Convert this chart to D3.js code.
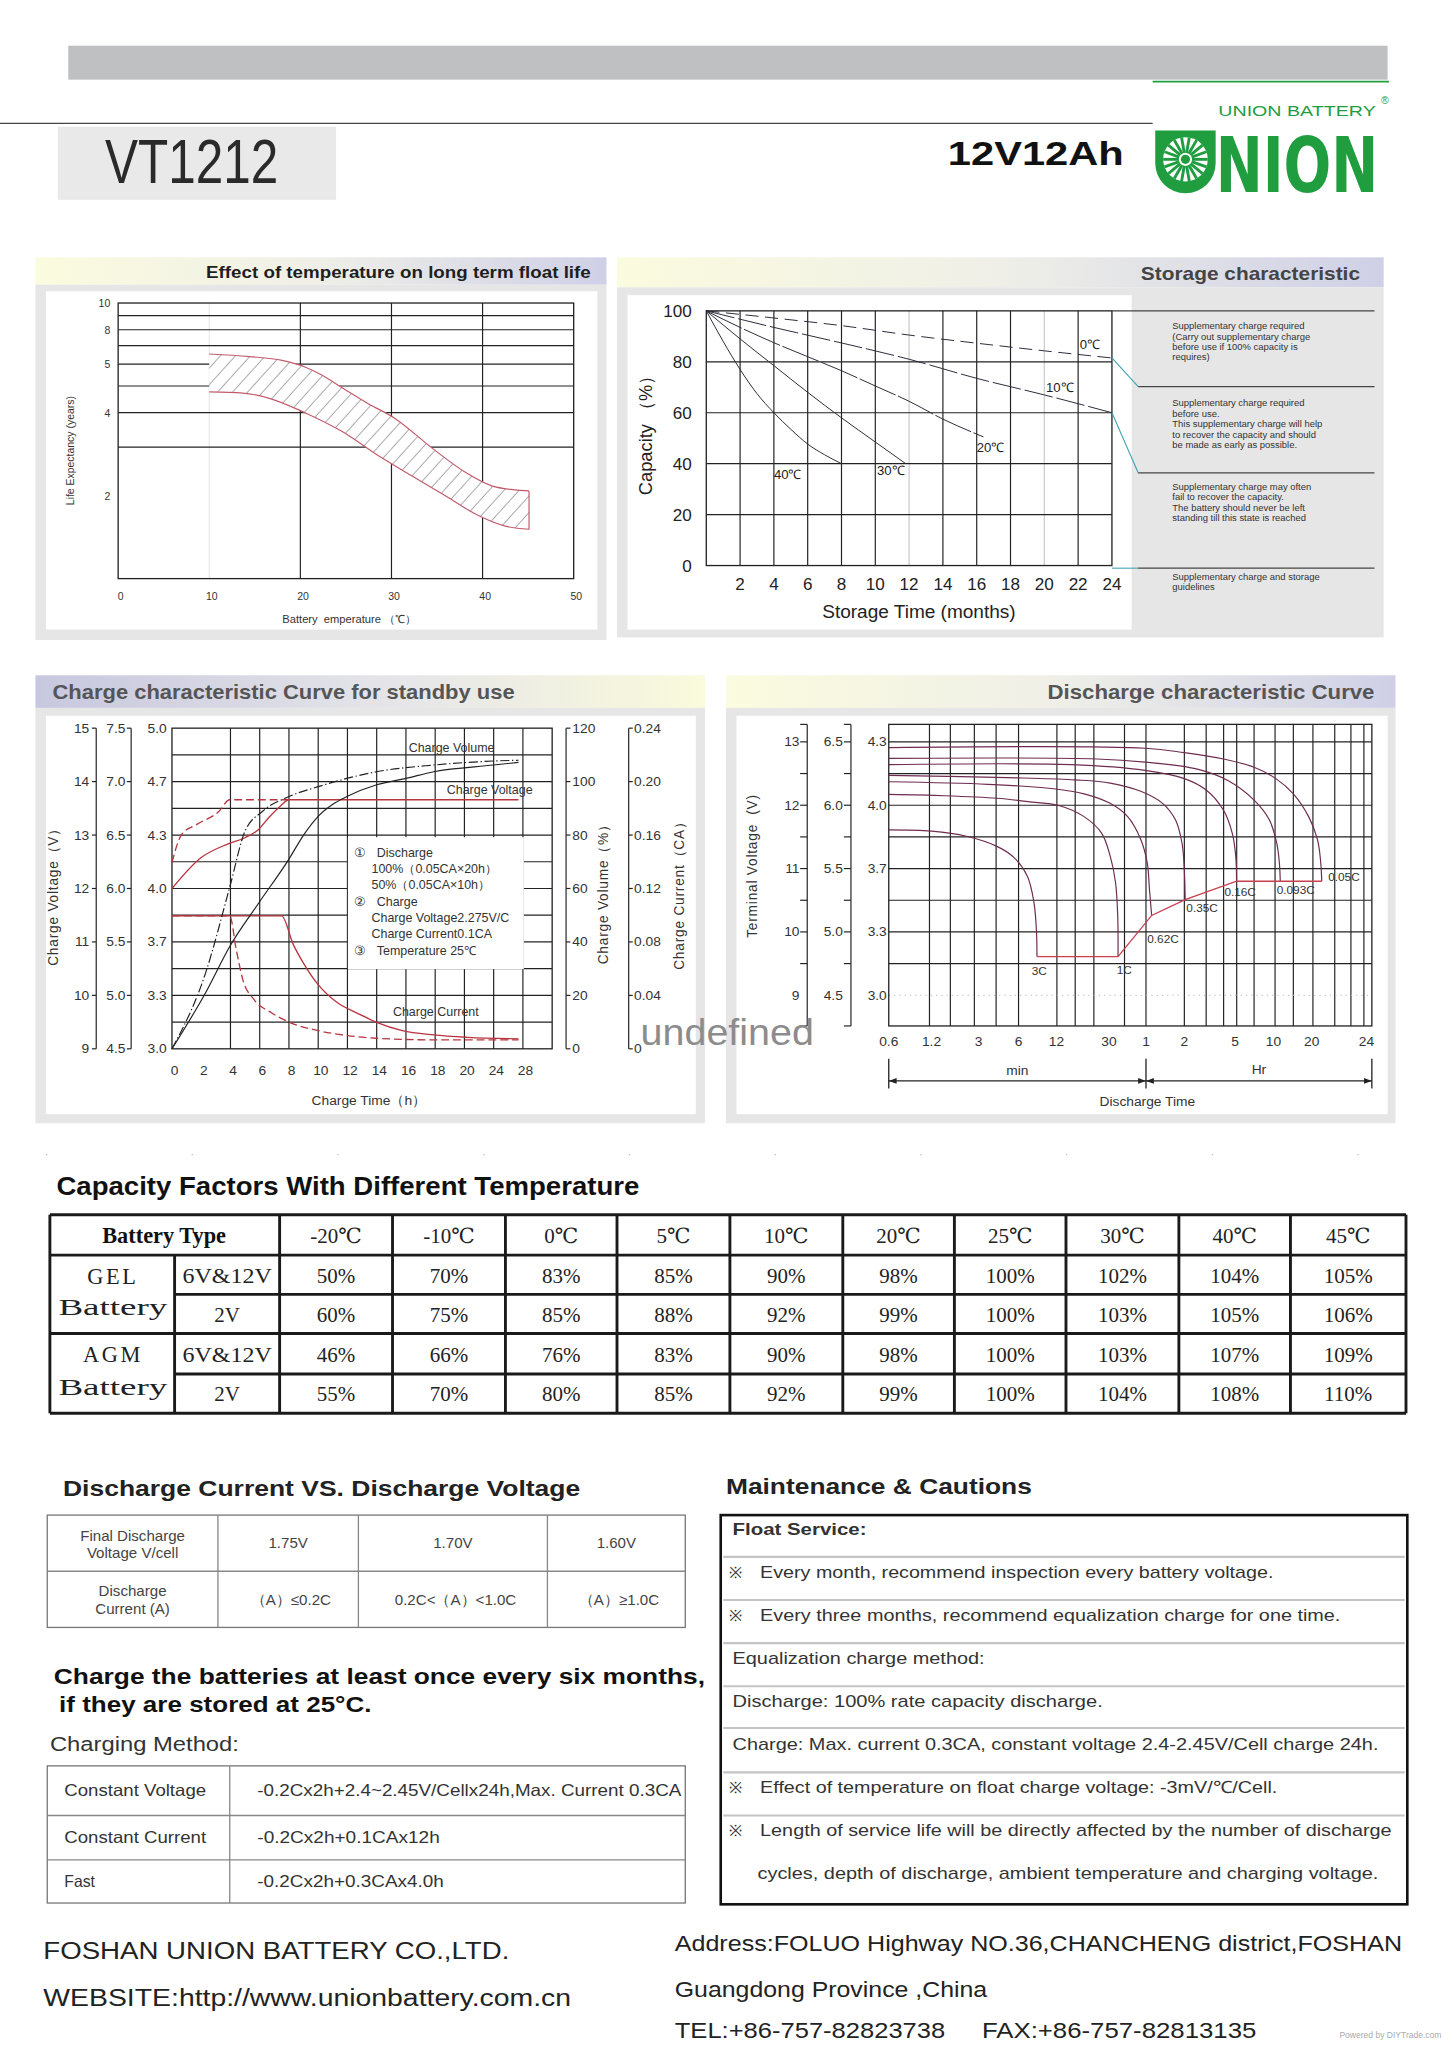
<!DOCTYPE html>
<html>
<head>
<meta charset="utf-8">
<title>VT1212 12V12Ah</title>
<script src="https://cdn.jsdelivr.net/npm/d3@7/dist/d3.min.js"></script>
<style>
body { margin: 0; background: #fff; }
svg { display: block; }
text { font-family: "Liberation Sans", Arial, sans-serif; }
</style>
</head>
<body>
<div id="sheet"></div>
<script>
// ---------- float life chart ----------
var lifeTicks = [10, 8, 6, 4, 2];
var lifeTickText = ["10", "8", "5", "4", "2"];
var lifeGrid = [9, 8, 7, 6, 5, 4, 3];
var tempTicks = [0, 10, 20, 30, 40, 50];
var tempGrid = [20, 30, 40];
var lifeUpper = [[10, 6.53], [14.4, 6.39], [18, 6.19], [20.5, 5.86], [22.3, 5.49], [24.5, 4.95], [27.4, 4.32], [30.3, 3.83], [34.6, 2.95], [38.2, 2.42], [41, 2.17], [43.5, 2.10], [45.1, 2.08]];
var lifeLower = [[10, 4.76], [13.7, 4.71], [16.6, 4.51], [20.5, 4.0], [24.5, 3.43], [28.8, 2.76], [32.4, 2.34], [36, 1.99], [39.6, 1.69], [42.5, 1.55], [45.1, 1.51]];

// ---------- storage chart ----------
var monthTicks = [2, 4, 6, 8, 10, 12, 14, 16, 18, 20, 22, 24];
var monthFaint = [12, 20];
var capacityTicks = [0, 20, 40, 60, 80, 100];
var storage0 = [[0, 100], [4, 97.2], [8, 94.2], [12, 90.5], [16, 87.3], [20, 84.3], [24, 81.5]];
var storage10 = [[0, 100], [4, 93.5], [8, 87.4], [12, 81], [16, 73.5], [20, 67], [24, 60]];
var storage20 = [[0, 100], [2, 93.5], [4, 87.5], [6, 82], [8, 76.5], [10, 70.5], [12, 64.5], [14, 57.5], [16.4, 50.5]];
var storage30 = [[0, 100], [2, 89], [4, 78.5], [6, 68], [8, 58], [10, 48.5], [11.8, 40]];
var storage40 = [[0, 100], [1, 88], [2, 77], [3, 67.5], [4, 60], [5, 53.5], [6, 47.7], [7, 43.5], [8, 40]];
var storageNames = ["0℃", "10℃", "20℃", "30℃", "40℃"];
var storageNamePos = [[22.1, 85], [20.1, 68.2], [16, 44.6], [10.1, 35.4], [4.0, 33.8]];
var storageNotes = [
  ["Supplementary charge required", "(Carry out supplementary charge", "before use if 100% capacity is", "requires)"],
  ["Supplementary charge required", "before use.", "This supplementary charge will help", "to recover the capacity and should", "be made as early as possible."],
  ["Supplementary charge may often", "fail to recover the capacity.", "The battery should never be left", "standing till this state is reached"],
  ["Supplementary charge and storage", "guidelines"]
];

// ---------- charge chart ----------
var hourTicks = [0, 2, 4, 6, 8, 10, 12, 14, 16, 18, 20, 22, 24];
var hourTickText = ["0", "2", "4", "6", "8", "10", "12", "14", "16", "18", "20", "24", "28"];
var hourGrid = [4, 6, 8, 10, 12, 14, 16, 18, 20, 22, 24];
var voltTicks = [15, 14, 13, 12, 11, 10, 9];
var cellVoltText = ["7.5", "7.0", "6.5", "6.0", "5.5", "5.0", "4.5"];
var cellVolt2Text = ["5.0", "4.7", "4.3", "4.0", "3.7", "3.3", "3.0"];
var voltGrid = [9.5, 10, 10.5, 11, 11.5, 12, 12.5, 13, 13.5, 14, 14.5];
var volumeTicks = [120, 100, 80, 60, 40, 20, 0];
var currentTicks = [0.24, 0.20, 0.16, 0.12, 0.08, 0.04, 0];
var currentTickText = ["0.24", "0.20", "0.16", "0.12", "0.08", "0.04", "0"];
var volt50 = [[0, 12.49], [0.66, 13.01], [1.7, 13.2], [3.2, 13.44], [3.95, 13.66], [8, 13.66]];
var volt100 = [[0, 12.0], [2, 12.58], [3.8, 12.83], [5, 12.95], [5.9, 13.1], [6.6, 13.32], [7.4, 13.54], [8, 13.66], [23.7, 13.66]];
var current100 = [[0, 0.0995], [7.5, 0.0995], [8.3, 0.078], [9, 0.064], [10, 0.048], [11.3, 0.0346], [12.8, 0.026], [14, 0.0198], [15.75, 0.0136], [17.9, 0.0104], [20.2, 0.0086], [23.7, 0.0074]];
var current50 = [[0, 0.0995], [3.95, 0.0995], [4.4, 0.074], [4.84, 0.052], [5.6, 0.037], [6.8, 0.027], [8, 0.020], [10, 0.0136], [12, 0.0099], [14, 0.0079], [17.9, 0.0067], [23.7, 0.0067]];
var volume50 = [[0, 0], [2.3, 28.4], [3.95, 60.5], [5, 81.5], [6.2, 88.9], [8, 94.4], [10, 98.1], [14, 103.7], [17.9, 106.2], [22, 107.7], [23.7, 108]];
var volume100 = [[0, 0], [2.3, 21], [3.95, 38.3], [5.9, 54.3], [8, 71], [9, 80], [10, 87], [11, 91.5], [12, 94.5], [14, 98.8], [16, 101.2], [17.9, 103.7], [22, 106.2], [23.7, 107.2]];
var chargeNotes = [
  ["①", "Discharge"], ["", "100%（0.05CA×20h）"], ["", "50%（0.05CA×10h）"],
  ["②", "Charge"], ["", "Charge Voltage2.275V/C"], ["", "Charge Current0.1CA"], ["③", "Temperature 25℃"]
];

// ---------- discharge chart ----------
var dvTicks = [13, 12, 11, 10, 9];
var dvCellText = ["6.5", "6.0", "5.5", "5.0", "4.5"];
var dvCell2Text = ["4.3", "4.0", "3.7", "3.3", "3.0"];
var dvGrid = [13, 12.5, 12, 11.5, 11, 10.5, 10, 9.5];
var dvMinorTicks = [13, 12.5, 12, 11.5, 11, 10.5, 10, 9.5];
var minuteTicks = [0.575, 1.245, 2.91, 6, 11.9, 30.7, 60, 120, 300, 600, 1200, 3222];
var minuteTickText = ["0.6", "1.2", "3", "6", "12", "30", "1", "2", "5", "10", "20", "24"];
var minuteGrid = [1.2, 1.75, 2.7, 4, 6, 12, 16.7, 23.4, 40.7, 60, 120, 178, 244, 309, 423, 618, 860, 1225, 1817, 2434, 3077];
var rate3C = [[0.575, 11.61], [1.245, 11.59], [2.34, 11.51], [4.06, 11.35], [5.56, 11.17], [7.04, 10.88], [7.92, 10.47], [8.3, 10.0], [8.37, 9.61]];
var rate1C = [[0.575, 12.17], [1.58, 12.15], [4.06, 12.11], [7.61, 12.05], [12.2, 12.0], [19.6, 11.82], [26.9, 11.56], [31.4, 11.2], [34.6, 10.78], [36.0, 10.26], [36.2, 9.61]];
var rate062C = [[0.575, 12.37], [3.46, 12.33], [11.3, 12.26], [19.6, 12.18], [31.4, 12.03], [43.1, 11.82], [54.6, 11.46], [61.4, 11.09], [63.9, 10.67], [66.5, 10.26]];
var rate035C = [[0.575, 12.47], [6.5, 12.43], [16.7, 12.40], [31.4, 12.35], [54.6, 12.22], [80.9, 12.03], [102.2, 11.77], [115.1, 11.40], [119.9, 10.99], [121.8, 10.51]];
var rate016C = [[0.575, 12.64], [15.5, 12.64], [59.1, 12.55], [119.9, 12.42], [178, 12.24], [243.5, 11.92], [285, 11.56], [303.6, 11.20], [308.4, 10.80]];
var rate0093C = [[0.575, 12.74], [24.8, 12.73], [59.1, 12.68], [151.8, 12.57], [263.5, 12.39], [423, 12.08], [557, 11.77], [637, 11.40], [668, 11.09], [679, 10.80]];
var rate005C = [[0.575, 12.91], [59.1, 12.90], [119.9, 12.83], [243.5, 12.73], [423, 12.60], [627, 12.42], [860, 12.18], [1134, 11.82], [1329, 11.46], [1404, 11.14], [1437, 10.80]];
var finalVoltage = [[8.37, 9.61], [36.2, 9.61], [66.5, 10.26], [121.8, 10.51], [308.4, 10.80], [1437, 10.80]];
var rateNames = ["3C", "1C", "0.62C", "0.35C", "0.16C", "0.093C", "0.05C"];
var rateNamePos = [[7.6, 9.32], [35.4, 9.33], [61.4, 9.83], [124.4, 10.32], [247.5, 10.56], [637, 10.6], [1615, 10.80]];

// ---------- capacity factor table ----------
var tempHeaders = ["-20℃", "-10℃", "0℃", "5℃", "10℃", "20℃", "25℃", "30℃", "40℃", "45℃"];
var gelBlock = [50, 70, 83, 85, 90, 98, 100, 102, 104, 105];
var gelCell = [60, 75, 85, 88, 92, 99, 100, 103, 105, 106];
var agmBlock = [46, 66, 76, 83, 90, 98, 100, 103, 107, 109];
var agmCell = [55, 70, 80, 85, 92, 99, 100, 104, 108, 110];

var finalVoltages = ["1.75V", "1.70V", "1.60V"];
var dischargeCurrents = ["（A）≤0.2C", "0.2C<（A）<1.0C", "（A）≥1.0C"];
var chargeMethods = ["Constant Voltage", "Constant Current", "Fast"];
var chargeRecipes = ["-0.2Cx2h+2.4~2.45V/Cellx24h,Max. Current 0.3CA", "-0.2Cx2h+0.1CAx12h", "-0.2Cx2h+0.3CAx4.0h"];
var cautionLines = [
  ["", "Float Service:"],
  ["※", "Every month, recommend inspection every battery voltage."],
  ["※", "Every three months, recommend equalization charge for one time."],
  ["", "Equalization charge method:"],
  ["", "Discharge: 100% rate capacity discharge."],
  ["", "Charge: Max. current 0.3CA, constant voltage 2.4-2.45V/Cell charge 24h."],
  ["※", "Effect of temperature on float charge voltage: -3mV/℃/Cell."],
  ["※", "Length of service life will be directly affected by the number of discharge"],
  ["", "cycles, depth of discharge, ambient temperature and charging voltage."]
];
var cautionLens = [102, 391, 442, 192, 282, 492, 394, 481, 473];

// ---------- drawing ----------
var svg = d3.select("#sheet").append("svg")
    .attr("width", 1448).attr("height", 2048)
    .attr("viewBox", "0 0 1103 1568")
    .attr("preserveAspectRatio", "none");

function label(p, x, y, s, size, o) {
  o = o || {};
  var t = p.append("text").attr("x", x).attr("y", y).text(s)
    .style("font-size", size + "px")
    .style("fill", o.fill || "#222")
    .attr("text-anchor", o.anchor || "start");
  if (o.weight) t.style("font-weight", o.weight);
  if (o.family) t.style("font-family", o.family);
  if (o.len) t.attr("textLength", o.len).attr("lengthAdjust", "spacingAndGlyphs");
  if (o.ls) t.style("letter-spacing", o.ls + "px");
  if (o.pre) t.style("white-space", "pre");
  if (o.rotate) t.attr("transform", "rotate(-90," + x + "," + y + ")");
  return t;
}
function rect(p, x, y, w, h, fill) {
  return p.append("rect").attr("x", x).attr("y", y).attr("width", w).attr("height", h).attr("fill", fill);
}
function hline(p, x1, x2, y, color, w) {
  return p.append("line").attr("x1", x1).attr("x2", x2).attr("y1", y).attr("y2", y)
    .attr("stroke", color || "#222").attr("stroke-width", w || 1);
}
function vline(p, x, y1, y2, color, w) {
  return p.append("line").attr("x1", x).attr("x2", x).attr("y1", y1).attr("y2", y2)
    .attr("stroke", color || "#222").attr("stroke-width", w || 1);
}

var defs = svg.append("defs");
function gradient(id, stops) {
  var gr = defs.append("linearGradient").attr("id", id)
    .attr("x1", "0%").attr("x2", "100%").attr("y1", "0%").attr("y2", "0%");
  stops.forEach(function (s) { gr.append("stop").attr("offset", s[0]).attr("stop-color", s[1]); });
}
gradient("yl", [["0%", "#fbfbdf"], ["50%", "#efefe8"], ["100%", "#cfd0e6"]]);
gradient("ly", [["0%", "#c7c7df"], ["55%", "#e6e6e9"], ["100%", "#fafadc"]]);

// sparse diagonal hatch for the float life band
var hatch = defs.append("pattern").attr("id", "hatch").attr("patternUnits", "userSpaceOnUse")
  .attr("width", 8.5).attr("height", 8.5).attr("patternTransform", "rotate(42)");
hatch.append("rect").attr("width", 8.5).attr("height", 8.5).attr("fill", "#fff");
hatch.append("line").attr("x1", 1).attr("y1", 0).attr("x2", 1).attr("y2", 8.5)
  .attr("stroke", "#6a6a6a").attr("stroke-width", 0.45);

// header
rect(svg, 52, 35, 1005, 26, "#bec0c1");
hline(svg, 0, 878, 94.5, "#444", 1);
rect(svg, 44, 97, 212, 56, "#e9e9e9");
label(svg, 80, 140, "VT1212", 48, { fill: "#2a2a2a", len: 132 });
label(svg, 722, 126, "12V12Ah", 26, { weight: "bold", fill: "#111", len: 134 });

// logo
var green = "#1f9d3f";
hline(svg, 878, 1058, 62.5, green, 1.5);
label(svg, 928, 89, "UNION BATTERY", 11, { fill: green, len: 120 });
label(svg, 1052, 80, "®", 8, { fill: green });
var logo = svg.append("g");
logo.append("path").attr("d", "M880,100 L926,100 L926,125 A23,23 0 0 1 880,125 Z").attr("fill", green);
logo.append("circle").attr("cx", 903).attr("cy", 122).attr("r", 17).attr("fill", "#fff");
d3.range(0, 360, 20).forEach(function (a) {
  var r = a * Math.PI / 180;
  logo.append("line")
    .attr("x1", 903 + 5 * Math.cos(r)).attr("y1", 122 + 5 * Math.sin(r))
    .attr("x2", 903 + 17 * Math.cos(r)).attr("y2", 122 + 17 * Math.sin(r))
    .attr("stroke", green).attr("stroke-width", 2.2);
});
logo.append("circle").attr("cx", 903).attr("cy", 122).attr("r", 3.5).attr("fill", green);
label(svg, 926, 147, "NION", 58, { weight: "bold", fill: green, len: 124, family: "DejaVu Sans" });

// panels
function panel(x, y, w, h, headH, grad, inner) {
  rect(svg, x, y, w, headH, "url(#" + grad + ")");
  rect(svg, x, y + headH, w, h - headH, "#e6e6e6");
  rect(svg, inner[0], inner[1], inner[2], inner[3], "#fff");
}
panel(27, 197, 435, 293, 21, "yl", [35, 223, 420, 259]);
panel(470, 197, 584, 291, 23, "yl", [478, 226, 384, 256]);
panel(27, 517, 510, 343, 25, "ly", [35, 548, 495, 305]);
panel(553, 517, 510, 343, 25, "yl", [561, 548, 496, 305]);
label(svg, 450, 213, "Effect of temperature on long term float life", 12.5, { weight: "bold", fill: "#1e1e1e", anchor: "end", len: 293 });
label(svg, 1036, 214, "Storage characteristic", 14, { fill: "#444", anchor: "end", len: 167, weight: "600" });
label(svg, 40, 535, "Charge characteristic Curve for standby use", 15, { weight: "bold", fill: "#555", len: 352 });
label(svg, 1047, 535, "Discharge characteristic Curve", 15, { weight: "bold", fill: "#555", anchor: "end", len: 249 });

// ===== chart 1: float life =====
var lifeX = d3.scaleLinear().domain([0, 50]).range([90, 437]);
var lifeY = d3.scaleLog().domain([1, 10]).range([443, 232]);
var g1 = svg.append("g");
vline(g1, lifeX(10), lifeY(10), lifeY(1), "#e4e4e4", 0.8);
g1.selectAll(".tg").data(tempGrid).enter().append("line")
  .attr("x1", function (d) { return lifeX(d); }).attr("x2", function (d) { return lifeX(d); })
  .attr("y1", lifeY(10)).attr("y2", lifeY(1)).attr("stroke", "#222").attr("stroke-width", 0.9);
g1.selectAll(".lg").data(lifeGrid).enter().append("line")
  .attr("x1", lifeX(0)).attr("x2", lifeX(50))
  .attr("y1", function (d) { return lifeY(d); }).attr("y2", function (d) { return lifeY(d); })
  .attr("stroke", "#222").attr("stroke-width", 0.9);
g1.append("rect").attr("x", lifeX(0)).attr("y", lifeY(10))
  .attr("width", lifeX(50) - lifeX(0)).attr("height", lifeY(1) - lifeY(10))
  .attr("fill", "none").attr("stroke", "#222").attr("stroke-width", 1);
var lifeLine = d3.line()
  .x(function (d) { return lifeX(d[0]); })
  .y(function (d) { return lifeY(d[1]); })
  .curve(d3.curveMonotoneX);
var lowerBack = lifeLower.slice().reverse();
var bandPath = lifeLine(lifeUpper) + "L" + lifeX(lowerBack[0][0]) + "," + lifeY(lowerBack[0][1]) +
  d3.line().x(function (d) { return lifeX(d[0]); }).y(function (d) { return lifeY(d[1]); })
    .curve(d3.curveCatmullRom)(lowerBack).replace(/^M[^L C]*/, "") + "Z";
g1.append("path").attr("d", bandPath).attr("fill", "url(#hatch)").attr("stroke", "none");
g1.append("path").attr("d", lifeLine(lifeUpper)).attr("fill", "none").attr("stroke", "#c35a6b").attr("stroke-width", 0.9);
g1.append("path").attr("d", lifeLine(lifeLower)).attr("fill", "none").attr("stroke", "#c35a6b").attr("stroke-width", 0.9);
vline(g1, lifeX(45.1), lifeY(2.08), lifeY(1.51), "#c35a6b", 0.9);
g1.selectAll(".yl").data(lifeTicks).enter().append("text")
  .attr("x", 84).attr("y", function (d) { return lifeY(d) + 3; })
  .attr("text-anchor", "end").style("font-size", "8px").style("fill", "#333")
  .text(function (d, i) { return lifeTickText[i]; });
g1.selectAll(".xl").data(tempTicks).enter().append("text")
  .attr("x", function (d) { return lifeX(d) + 2; }).attr("y", 459)
  .attr("text-anchor", "middle").style("font-size", "8px").style("fill", "#333")
  .text(function (d) { return d; });
label(g1, 56, 345, "Life Expectancy (years)", 8, { fill: "#333", anchor: "middle", rotate: true });
label(g1, 266, 477, "Battery  emperature （℃）", 8.5, { fill: "#333", anchor: "middle", pre: true });

// ===== chart 2: storage =====
var stX = d3.scaleLinear().domain([0, 24]).range([538, 847]);
var stY = d3.scaleLinear().domain([0, 100]).range([433, 238]);
var g2 = svg.append("g");
g2.selectAll(".mg").data(monthTicks.slice(0, 11)).enter().append("line")
  .attr("x1", function (d) { return stX(d); }).attr("x2", function (d) { return stX(d); })
  .attr("y1", stY(100)).attr("y2", stY(0))
  .attr("stroke", function (d) { return monthFaint.indexOf(d) >= 0 ? "#c8c8c8" : "#222"; })
  .attr("stroke-width", 0.9);
g2.selectAll(".cg").data([20, 40, 60, 80]).enter().append("line")
  .attr("x1", stX(0)).attr("x2", stX(24))
  .attr("y1", function (d) { return stY(d); }).attr("y2", function (d) { return stY(d); })
  .attr("stroke", "#222").attr("stroke-width", 0.9);
g2.append("rect").attr("x", stX(0)).attr("y", stY(100))
  .attr("width", stX(24) - stX(0)).attr("height", stY(0) - stY(100))
  .attr("fill", "none").attr("stroke", "#222").attr("stroke-width", 1);
var stLine = d3.line()
  .x(function (d) { return stX(d[0]); })
  .y(function (d) { return stY(d[1]); })
  .curve(d3.curveMonotoneX);
var storageSeries = [storage0, storage10, storage20, storage30, storage40];
var storageDash = ["10,5", "22,3", "30,2", null, null];
storageSeries.forEach(function (s, i) {
  var p = g2.append("path").attr("d", stLine(s)).attr("fill", "none")
    .attr("stroke", "#2a2a3a").attr("stroke-width", 0.75);
  if (storageDash[i]) p.attr("stroke-dasharray", storageDash[i]);
  label(g2, stX(storageNamePos[i][0]), stY(storageNamePos[i][1]), storageNames[i], 10, { fill: "#222" });
});
g2.selectAll(".sy").data(capacityTicks).enter().append("text")
  .attr("x", 527).attr("y", function (d) { return stY(d) + 5; })
  .attr("text-anchor", "end").style("font-size", "13px").style("fill", "#222")
  .text(function (d) { return d; });
g2.selectAll(".sx").data(monthTicks).enter().append("text")
  .attr("x", function (d) { return stX(d); }).attr("y", 452)
  .attr("text-anchor", "middle").style("font-size", "13px").style("fill", "#222")
  .text(function (d) { return d; });
label(g2, 497, 330, "Capacity （%）", 14, { fill: "#222", anchor: "middle", rotate: true });
label(g2, 700, 473, "Storage Time (months)", 14.5, { fill: "#222", anchor: "middle" });
// guide lines to the notes column
hline(g2, stX(24), 1047, stY(100), "#444", 0.9);
g2.append("path").attr("d", "M" + stX(24) + "," + stY(81.5) + " L867,296").attr("stroke", "#3aa0b0").attr("fill", "none").attr("stroke-width", 0.8);
hline(g2, 867, 1047, 296, "#444", 0.9);
g2.append("path").attr("d", "M" + stX(24) + "," + stY(60) + " L867,362").attr("stroke", "#3aa0b0").attr("fill", "none").attr("stroke-width", 0.8);
hline(g2, 867, 1047, 362, "#444", 0.9);
hline(g2, stX(24), 867, 435, "#3aa0b0", 0.8);
hline(g2, 867, 1047, 435, "#444", 0.9);
var noteTop = [252, 311, 375, 444];
storageNotes.forEach(function (block, b) {
  block.forEach(function (line, i) {
    label(g2, 893, noteTop[b] + i * 8, line, 7.2, { fill: "#333" });
  });
});

// ===== chart 3: charge =====
var chX = d3.scaleLinear().domain([0, 26]).range([131, 420.6]);
var chV = d3.scaleLinear().domain([9, 15]).range([803, 557.5]);
var chVol = d3.scaleLinear().domain([0, 120]).range([803, 557.5]);
var chCur = d3.scaleLinear().domain([0, 0.24]).range([803, 557.5]);
var g3 = svg.append("g");
g3.selectAll(".hg").data(hourGrid).enter().append("line")
  .attr("x1", function (d) { return chX(d); }).attr("x2", function (d) { return chX(d); })
  .attr("y1", chV(15)).attr("y2", chV(9)).attr("stroke", "#222").attr("stroke-width", 0.9);
g3.selectAll(".vg").data(voltGrid).enter().append("line")
  .attr("x1", chX(0)).attr("x2", chX(26))
  .attr("y1", function (d) { return chV(d); }).attr("y2", function (d) { return chV(d); })
  .attr("stroke", "#222").attr("stroke-width", 0.9);
g3.append("rect").attr("x", chX(0)).attr("y", chV(15))
  .attr("width", chX(26) - chX(0)).attr("height", chV(9) - chV(15))
  .attr("fill", "none").attr("stroke", "#222").attr("stroke-width", 1);
// note box
g3.append("rect").attr("x", 265).attr("y", 641).attr("width", 134).attr("height", 101).attr("fill", "#fff");
chargeNotes.forEach(function (n, i) {
  var y = 656 + i * 12.5;
  if (n[0]) label(g3, 270, y, n[0], 10, { fill: "#333" });
  label(g3, n[0] ? 287 : 283, y, n[1], 9.5, { fill: "#333" });
});
var chVoltLine = d3.line().x(function (d) { return chX(d[0]); }).y(function (d) { return chV(d[1]); }).curve(d3.curveMonotoneX);
var chVolLine = d3.line().x(function (d) { return chX(d[0]); }).y(function (d) { return chVol(d[1]); }).curve(d3.curveMonotoneX);
var chCurLine = d3.line().x(function (d) { return chX(d[0]); }).y(function (d) { return chCur(d[1]); }).curve(d3.curveMonotoneX);
var red = "#b8343f";
g3.append("path").attr("d", chVoltLine(volt100)).attr("fill", "none").attr("stroke", red).attr("stroke-width", 1);
g3.append("path").attr("d", chVoltLine(volt50)).attr("fill", "none").attr("stroke", red).attr("stroke-width", 1).attr("stroke-dasharray", "6,3");
g3.append("path").attr("d", chCurLine(current100)).attr("fill", "none").attr("stroke", red).attr("stroke-width", 1);
g3.append("path").attr("d", chCurLine(current50)).attr("fill", "none").attr("stroke", red).attr("stroke-width", 1).attr("stroke-dasharray", "6,3");
g3.append("path").attr("d", chVolLine(volume100)).attr("fill", "none").attr("stroke", "#222").attr("stroke-width", 0.9);
g3.append("path").attr("d", chVolLine(volume50)).attr("fill", "none").attr("stroke", "#222").attr("stroke-width", 0.9).attr("stroke-dasharray", "7,2,1,2");
label(g3, 344, 576, "Charge Volume", 9.5, { fill: "#333", anchor: "middle" });
label(g3, 373, 608, "Charge Voltage", 9.5, { fill: "#333", anchor: "middle" });
label(g3, 332, 778, "Charge Current", 9.5, { fill: "#333", anchor: "middle" });
// axes
vline(g3, 73.3, chV(15), chV(9), "#222", 0.9);
vline(g3, 99.9, chV(15), chV(9), "#222", 0.9);
vline(g3, 431.2, chV(15), chV(9), "#222", 0.9);
vline(g3, 478.9, chV(15), chV(9), "#222", 0.9);
voltTicks.forEach(function (v, i) {
  var y = chV(v);
  hline(g3, 70, 73.3, y, "#222", 0.9);
  hline(g3, 96.6, 99.9, y, "#222", 0.9);
  label(g3, 68, y + 3.5, String(v), 10.5, { fill: "#333", anchor: "end" });
  label(g3, 95.5, y + 3.5, cellVoltText[i], 10.5, { fill: "#333", anchor: "end" });
  label(g3, 127, y + 3.5, cellVolt2Text[i], 10.5, { fill: "#333", anchor: "end" });
});
g3.selectAll(".rv").data(volumeTicks).enter().append("text")
  .attr("x", 436).attr("y", function (d) { return chVol(d) + 3.5; })
  .style("font-size", "10.5px").style("fill", "#333").text(function (d) { return d; });
g3.selectAll(".rvt").data(volumeTicks).enter().append("line")
  .attr("x1", 431.2).attr("x2", 434.5)
  .attr("y1", function (d) { return chVol(d); }).attr("y2", function (d) { return chVol(d); })
  .attr("stroke", "#222").attr("stroke-width", 0.9);
g3.selectAll(".rc").data(currentTicks).enter().append("text")
  .attr("x", 483).attr("y", function (d) { return chCur(d) + 3.5; })
  .style("font-size", "10.5px").style("fill", "#333").text(function (d, i) { return currentTickText[i]; });
g3.selectAll(".rct").data(currentTicks).enter().append("line")
  .attr("x1", 478.9).attr("x2", 482)
  .attr("y1", function (d) { return chCur(d); }).attr("y2", function (d) { return chCur(d); })
  .attr("stroke", "#222").attr("stroke-width", 0.9);
g3.selectAll(".hx").data(hourTicks).enter().append("text")
  .attr("x", function (d) { return chX(d) + 2; }).attr("y", 823)
  .attr("text-anchor", "middle").style("font-size", "10.5px").style("fill", "#333")
  .text(function (d, i) { return hourTickText[i]; });
label(g3, 281, 846, "Charge Time（h）", 10.5, { fill: "#333", anchor: "middle" });
label(g3, 44, 684, "Charge Voltage（V）", 10.5, { fill: "#333", anchor: "middle", rotate: true, ls: 0.6 });
label(g3, 463, 682, "Charge Volume（%）", 10.5, { fill: "#333", anchor: "middle", rotate: true, ls: 0.6 });
label(g3, 521, 683, "Charge Current（CA）", 10.5, { fill: "#333", anchor: "middle", rotate: true, ls: 0.6 });

// ===== chart 4: discharge =====
var dcX = d3.scaleLog().domain([0.575, 3553]).range([677, 1045]);
var dcY = d3.scaleLinear().domain([9, 13]).range([762, 568]);
var dTop = 554.6, dBottom = 785.5;
var g4 = svg.append("g");
g4.selectAll(".mg").data(minuteGrid).enter().append("line")
  .attr("x1", function (d) { return dcX(d); }).attr("x2", function (d) { return dcX(d); })
  .attr("y1", dTop).attr("y2", dBottom).attr("stroke", "#222").attr("stroke-width", 0.9);
g4.selectAll(".vg").data(dvGrid).enter().append("line")
  .attr("x1", dcX(0.575)).attr("x2", dcX(3553))
  .attr("y1", function (d) { return dcY(d); }).attr("y2", function (d) { return dcY(d); })
  .attr("stroke", "#222").attr("stroke-width", 0.9);
hline(g4, dcX(0.575), dcX(3553), dcY(9), "#bbb", 0.8).attr("stroke-dasharray", "1,3");
g4.append("rect").attr("x", dcX(0.575)).attr("y", dTop)
  .attr("width", dcX(3553) - dcX(0.575)).attr("height", dBottom - dTop)
  .attr("fill", "none").attr("stroke", "#222").attr("stroke-width", 1);
var dcLine = d3.line()
  .x(function (d) { return dcX(d[0]); })
  .y(function (d) { return dcY(d[1]); })
  .curve(d3.curveCatmullRom.alpha(0.5));
[rate3C, rate1C, rate062C, rate035C, rate016C, rate0093C, rate005C].forEach(function (s) {
  g4.append("path").attr("d", dcLine(s)).attr("fill", "none").attr("stroke", "#6e2c50").attr("stroke-width", 0.9);
});
g4.append("path").attr("d", d3.line().x(function (d) { return dcX(d[0]); }).y(function (d) { return dcY(d[1]); })(finalVoltage))
  .attr("fill", "none").attr("stroke", "#c8404f").attr("stroke-width", 1);
rateNames.forEach(function (n, i) {
  label(g4, dcX(rateNamePos[i][0]), dcY(rateNamePos[i][1]), n, 9, { fill: "#333" });
});
vline(g4, 614.9, dTop, dBottom, "#222", 0.9);
vline(g4, 648.2, dTop, dBottom, "#222", 0.9);
dvMinorTicks.forEach(function (v) {
  hline(g4, 609.5, 614.9, dcY(v), "#222", 0.9);
  hline(g4, 642.8, 648.2, dcY(v), "#222", 0.9);
});
[dTop, dBottom].forEach(function (y) {
  hline(g4, 609.5, 614.9, y, "#222", 0.9);
  hline(g4, 642.8, 648.2, y, "#222", 0.9);
});
dvTicks.forEach(function (v, i) {
  var y = dcY(v) + 3.5;
  label(g4, 609, y, String(v), 10.5, { fill: "#333", anchor: "end" });
  label(g4, 642, y, dvCellText[i], 10.5, { fill: "#333", anchor: "end" });
  label(g4, 675.5, y, dvCell2Text[i], 10.5, { fill: "#333", anchor: "end" });
});
g4.selectAll(".mx").data(minuteTicks).enter().append("text")
  .attr("x", function (d) { return dcX(d); }).attr("y", 801)
  .attr("text-anchor", "middle").style("font-size", "10.5px").style("fill", "#333")
  .text(function (d, i) { return minuteTickText[i]; });
var arrowY = 827.6, sep = dcX(60);
hline(g4, dcX(0.575), dcX(3553), arrowY, "#222", 1);
[dcX(0.575), sep, dcX(3553)].forEach(function (x) { vline(g4, x, 810.7, 833.4, "#222", 1); });
function arrowHead(x, dir) {
  g4.append("path").attr("d", "M" + x + "," + arrowY + " l" + (-6 * dir) + ",-2.2 l0,4.4 Z").attr("fill", "#222");
}
arrowHead(dcX(0.575), -1);
arrowHead(sep, 1);
arrowHead(sep, -1);
arrowHead(dcX(3553), 1);
label(g4, (dcX(0.575) + sep) / 2, 823, "min", 10.5, { fill: "#333", anchor: "middle" });
label(g4, (sep + dcX(3553)) / 2, 822, "Hr", 10.5, { fill: "#333", anchor: "middle" });
label(g4, 874, 847, "Discharge Time", 10.5, { fill: "#333", anchor: "middle" });
label(g4, 577, 663, "Terminal Voltage  (V)", 10.5, { fill: "#333", anchor: "middle", rotate: true, ls: 0.6, pre: true });

label(svg, 488, 800, "undefined", 28, { fill: "#8c8c8c", len: 132 });

// ===== capacity factor table =====
hline(svg, 35, 1075, 884, "#bbb", 1).attr("stroke-dasharray", "1,110");
label(svg, 43, 915, "Capacity Factors With Different Temperature", 19.5, { weight: "bold", fill: "#111", len: 444 });
var colX = [38, 133, 213, 299, 385, 470, 556, 642, 727, 812, 898, 983, 1071];
var rowY = [930, 961, 991, 1021, 1052, 1082];
var tg = svg.append("g");
var serif = "'Liberation Serif', 'DejaVu Serif', serif";
tg.selectAll(".row").data(rowY).enter().append("line")
  .attr("x1", function (d, i) { return (i === 2 || i === 4) ? 133 : 38; })
  .attr("x2", 1071)
  .attr("y1", function (d) { return d; }).attr("y2", function (d) { return d; })
  .attr("stroke", "#1a1a1a").attr("stroke-width", 2.2);
tg.selectAll(".col").data(colX).enter().append("line")
  .attr("x1", function (d) { return d; }).attr("x2", function (d) { return d; })
  .attr("y1", function (d, i) { return i === 1 ? 961 : 930; }).attr("y2", 1082)
  .attr("stroke", "#1a1a1a").attr("stroke-width", 2.2);
label(tg, 125, 952, "Battery Type", 17, { weight: "bold", family: serif, anchor: "middle", fill: "#111" });
tempHeaders.forEach(function (t, i) {
  label(tg, (colX[i + 2] + colX[i + 3]) / 2, 952, t, 16, { family: serif, anchor: "middle", fill: "#222" });
});
var tableRows = [gelBlock, gelCell, agmBlock, agmCell];
var subTypes = ["6V&12V", "2V", "6V&12V", "2V"];
tableRows.forEach(function (r, j) {
  var y = (rowY[j + 1] + rowY[j + 2]) / 2 + 6;
  label(tg, 173, y, subTypes[j], 16, { family: serif, anchor: "middle", fill: "#222", len: subTypes[j].length > 2 ? 68 : null });
  r.forEach(function (v, i) {
    label(tg, (colX[i + 2] + colX[i + 3]) / 2, y, v + "%", 16, { family: serif, anchor: "middle", fill: "#222" });
  });
});
label(tg, 86, 983, "GEL", 17, { family: serif, anchor: "middle", fill: "#222", ls: 2 });
label(tg, 86, 1007, "Battery", 17, { family: serif, anchor: "middle", fill: "#222", len: 83 });
label(tg, 86, 1043, "AGM", 17, { family: serif, anchor: "middle", fill: "#222", ls: 2 });
label(tg, 86, 1068, "Battery", 17, { family: serif, anchor: "middle", fill: "#222", len: 83 });

// ===== discharge current vs voltage =====
label(svg, 48, 1145, "Discharge Current VS. Discharge Voltage", 17, { weight: "bold", fill: "#222", len: 394 });
var dcCols = [36, 166, 273, 417, 522];
var dg = svg.append("g");
dg.append("rect").attr("x", 36).attr("y", 1160).attr("width", 486).attr("height", 86)
  .attr("fill", "none").attr("stroke", "#777").attr("stroke-width", 1);
hline(dg, 36, 522, 1203, "#888", 1);
dcCols.slice(1, 4).forEach(function (x) { vline(dg, x, 1160, 1246, "#888", 1); });
label(dg, 101, 1180, "Final Discharge", 11.5, { fill: "#444", anchor: "middle" });
label(dg, 101, 1193, "Voltage V/cell", 11.5, { fill: "#444", anchor: "middle" });
label(dg, 101, 1222, "Discharge", 11.5, { fill: "#444", anchor: "middle" });
label(dg, 101, 1236, "Current (A)", 11.5, { fill: "#444", anchor: "middle" });
finalVoltages.forEach(function (v, i) {
  var cx = (dcCols[i + 1] + dcCols[i + 2]) / 2;
  label(dg, cx, 1185, v, 11.5, { fill: "#444", anchor: "middle" });
  label(dg, cx + 2, 1229, dischargeCurrents[i], 11.5, { fill: "#444", anchor: "middle" });
});

label(svg, 41, 1289, "Charge the batteries at least once every six months,", 17.5, { weight: "bold", fill: "#111", len: 496 });
label(svg, 45, 1311, "if they are stored at 25°C.", 17.5, { weight: "bold", fill: "#111", len: 238 });
label(svg, 38, 1341, "Charging Method:", 16, { fill: "#333", len: 144 });
var cg = svg.append("g");
var cmRows = [1352, 1390, 1424, 1457];
cg.append("rect").attr("x", 36).attr("y", 1352).attr("width", 486).attr("height", 105)
  .attr("fill", "none").attr("stroke", "#777").attr("stroke-width", 1);
hline(cg, 36, 522, 1390, "#888", 1);
hline(cg, 36, 522, 1424, "#888", 1);
vline(cg, 175, 1352, 1457, "#888", 1);
var recipeLens = [323, 139, 142];
chargeMethods.forEach(function (m, i) {
  var y = (cmRows[i] + cmRows[i + 1]) / 2 + 4;
  label(cg, 49, y, m, 12, { fill: "#333", len: m.length > 5 ? 108 : null });
  label(cg, 196, y, chargeRecipes[i], 12, { fill: "#333", len: recipeLens[i] });
});

// ===== maintenance & cautions =====
label(svg, 553, 1144, "Maintenance & Cautions", 17, { weight: "bold", fill: "#222", len: 233 });
var mg = svg.append("g");
var mRows = [1192, 1225, 1258, 1291, 1323, 1357, 1390];
mRows.forEach(function (y) { hline(mg, 551, 1070, y, "#c4c4c4", 1.6); });
mg.append("rect").attr("x", 549).attr("y", 1160).attr("width", 523).attr("height", 298)
  .attr("fill", "none").attr("stroke", "#111").attr("stroke-width", 2);
var mBase = [1175, 1208, 1241, 1274, 1307, 1340, 1373, 1406, 1439];
cautionLines.forEach(function (c, i) {
  var x = c[0] ? 579 : (i === 8 ? 577 : 558);
  if (c[0]) label(mg, 555, mBase[i], c[0], 12, { fill: "#333" });
  label(mg, x, mBase[i], c[1], 13, { fill: "#333", len: cautionLens[i], weight: i === 0 ? "bold" : null });
});

// ===== footer =====
label(svg, 33, 1500, "FOSHAN UNION BATTERY CO.,LTD.", 18, { fill: "#222", len: 355 });
label(svg, 33, 1536, "WEBSITE:http://www.unionbattery.com.cn", 18, { fill: "#222", len: 402 });
label(svg, 514, 1494, "Address:FOLUO Highway NO.36,CHANCHENG district,FOSHAN", 17, { fill: "#222", len: 554 });
label(svg, 514, 1529, "Guangdong Province ,China", 17, { fill: "#222", len: 238 });
label(svg, 514, 1560, "TEL:+86-757-82823738", 17, { fill: "#222", len: 206 });
label(svg, 748, 1560, "FAX:+86-757-82813135", 17, { fill: "#222", len: 209 });
label(svg, 1098, 1560, "Powered by DIYTrade.com", 6.5, { fill: "#aaa", anchor: "end" });
</script>
</body>
</html>
